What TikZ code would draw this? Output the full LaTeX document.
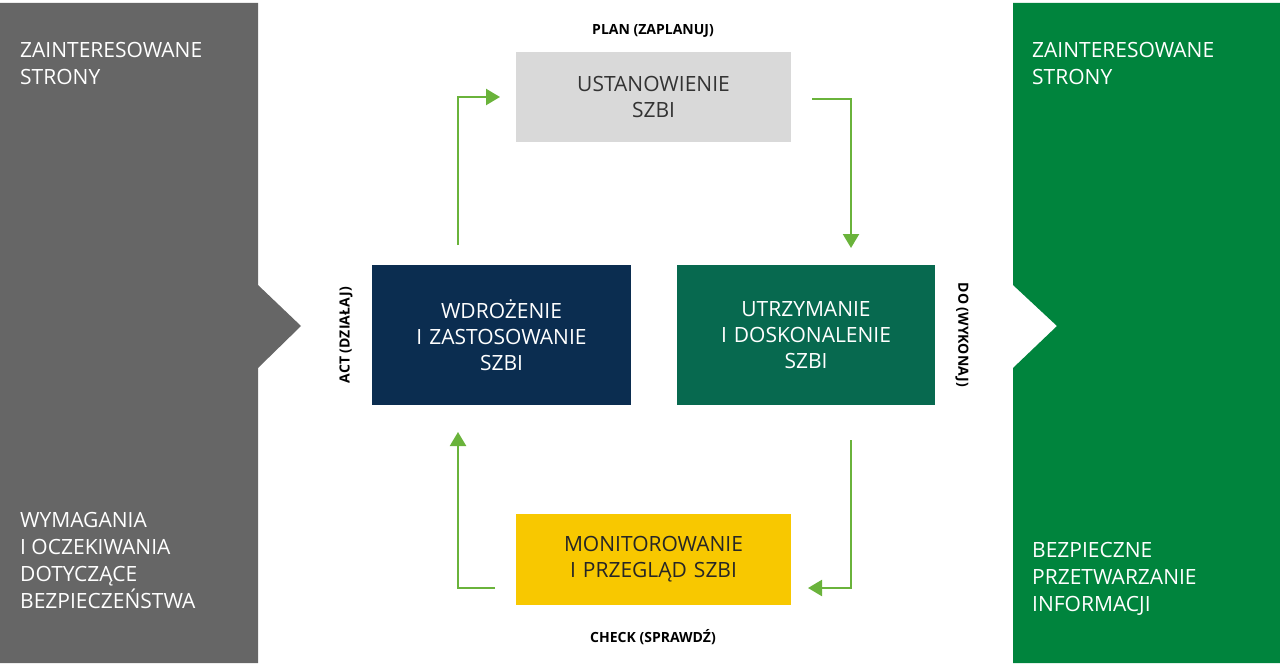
\documentclass[tikz,border=0pt]{standalone}
\usepackage{fontspec}
\setmainfont{Open Sans}
\begin{document}
\begin{tikzpicture}[x=1pt,y=-1pt,
 box/.style={draw=none,inner sep=0pt,text width=240pt,align=center,font=\fontsize{21}{26}\selectfont},
 side/.style={anchor=north west,align=left,text=white,inner sep=0pt,font=\fontsize{21}{27}\selectfont},
 lab/.style={font=\bfseries\fontsize{14}{16}\selectfont,inner sep=0pt},
 arr/.style={draw=arrowgreen,line width=2.2pt,-{Triangle[length=14pt,width=16pt]}}]
\usetikzlibrary{arrows.meta}
\definecolor{panelgrey}{HTML}{666666}
\definecolor{panelgreen}{HTML}{00843D}
\definecolor{arrowgreen}{HTML}{6AB33B}
\definecolor{plangrey}{HTML}{D9D9D9}
\definecolor{navy}{HTML}{0B2D50}
\definecolor{teal}{HTML}{07694F}
\definecolor{yellowbox}{HTML}{F8C800}
\useasboundingbox (0,0) rectangle (1280,666);
\fill[panelgrey] (0,3) -- (258,3) -- (258,285) -- (301,326) -- (258,368) -- (258,663) -- (0,663) -- cycle;
\fill[panelgreen] (1013,3) -- (1280,3) -- (1280,663) -- (1013,663) -- (1013,368) -- (1057,326) -- (1013,285) -- cycle;
\node[side] (lt) at (20,42) {ZAINTERESOWANE\\STRONY};
\node[side] (lb) at (20,512) {WYMAGANIA\\I OCZEKIWANIA\\DOTYCZĄCE\\BEZPIECZEŃSTWA};
\node[side] (rt) at (1032,42) {ZAINTERESOWANE\\STRONY};
\node[side] (rb) at (1032,542) {BEZPIECZNE\\PRZETWARZANIE\\INFORMACJI};
\node[box,fill=plangrey,minimum width=275pt,minimum height=90pt,text=black!80] (plan) at (653.5,97) {USTANOWIENIE\\SZBI};
\node[box,fill=navy,minimum width=259pt,minimum height=140pt,text=white] (act) at (501.5,335) {WDROŻENIE\\I ZASTOSOWANIE\\SZBI};
\node[box,fill=teal,minimum width=258pt,minimum height=140pt,text=white] (do) at (806,335) {UTRZYMANIE\\I DOSKONALENIE\\SZBI};
\node[box,fill=yellowbox,minimum width=275pt,minimum height=91pt,text=black!85] (check) at (653.5,559.5) {MONITOROWANIE\\I PRZEGLĄD SZBI};
\node[lab] (lp) at (653,31) {PLAN (ZAPLANUJ)};
\node[lab] (lc) at (653,637) {CHECK (SPRAWDŹ)};
\node[lab,rotate=90] (la) at (346,335) {ACT (DZIAŁAJ)};
\node[lab,rotate=-90] (ld) at (962,335) {DO (WYKONAJ)};
\coordinate (a1) at (458,245); \coordinate (a2) at (500,97);
\coordinate (b1) at (812,99); \coordinate (b2) at (851,248);
\coordinate (c1) at (851,440); \coordinate (c2) at (808,588);
\coordinate (d1) at (495,588); \coordinate (d2) at (458,432);
\draw[arr] (a1) |- (a2);
\draw[arr] (b1) -| (b2);
\draw[arr] (c1) |- (c2);
\draw[arr] (d1) -| (d2);
\end{tikzpicture}
\end{document}
